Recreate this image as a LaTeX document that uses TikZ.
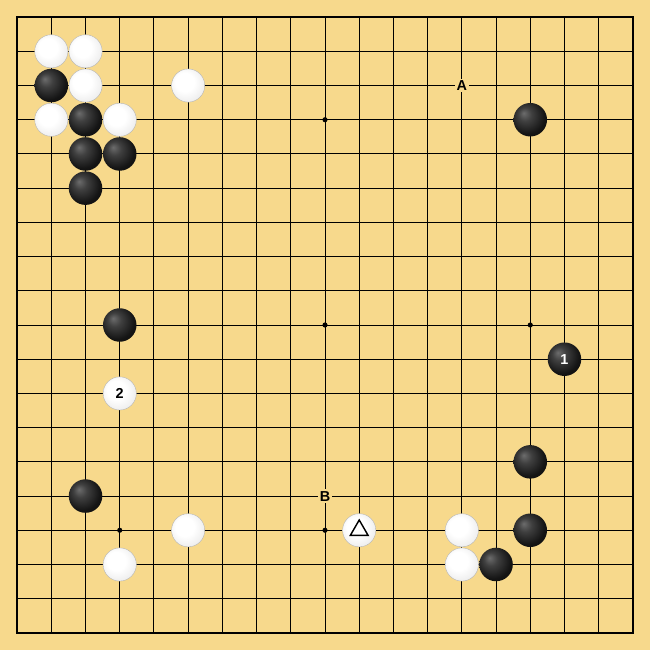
\documentclass[tikz,border=0pt]{standalone}
\usepackage{fontspec}
\setsansfont{Liberation Sans}
\usetikzlibrary{shapes.geometric}
\definecolor{board}{RGB}{247,217,140}
\pgfdeclareradialshading{whitestone}{\pgfpoint{-7bp}{7bp}}{color(0bp)=(white); color(14bp)=(white); color(30bp)=(gray!15); color(42bp)=(gray!40); color(50bp)=(gray!55)}
\pgfdeclareradialshading{blackstone}{\pgfpoint{-10bp}{10bp}}{color(0bp)=(gray!85!black); color(10bp)=(black!75); color(26bp)=(black!92); color(50bp)=(black)}

\begin{document}
\begin{tikzpicture}[x=1cm,y=1cm]
 \fill[board] (-0.5,0.5) rectangle (18.5,-18.5);
 \useasboundingbox (-0.5,0.5) rectangle (18.5,-18.5);
 \draw[line width=.8pt] (0,0) grid (18,-18);
 \draw[line width=1.6pt] (0,0) rectangle (18,-18);
 % hoshi
 \foreach \x in {3,9,15}
  \foreach \y in {3,9,15}
   \fill (\x,-\y) circle (.075);
 % letters
 \begin{scope}[every node/.style={fill=board,inner sep=1.5pt,font=\sffamily\bfseries\fontsize{12}{14}\selectfont}]
  \node (A) at (13,-2) {A};
  \node (B) at (9,-14) {B};
 \end{scope}
 % black stones
 \begin{scope}[every node/.style={circle,shading=blackstone,minimum size=.98cm,inner sep=0,text=white,font=\sffamily\bfseries\fontsize{12}{14}\selectfont}]
  \node (b1) at (1,-2) {};
  \node (b2) at (2,-3) {};
  \node (b3) at (2,-4) {};
  \node (b4) at (3,-4) {};
  \node (b5) at (2,-5) {};
  \node (b6) at (15,-3) {};
  \node (b7) at (3,-9) {};
  \node (m1) at (16,-10) {1};
  \node (b8) at (15,-13) {};
  \node (b9) at (2,-14) {};
  \node (b10) at (15,-15) {};
  \node (b11) at (14,-16) {};
 \end{scope}
 % white stones
 \begin{scope}[every node/.style={circle,shading=whitestone,draw=gray!60,line width=.3pt,minimum size=.97cm,inner sep=0,font=\sffamily\bfseries\fontsize{12}{14}\selectfont}]
  \node (w1) at (1,-1) {};
  \node (w2) at (2,-1) {};
  \node (w3) at (2,-2) {};
  \node (w4) at (5,-2) {};
  \node (w5) at (1,-3) {};
  \node (w6) at (3,-3) {};
  \node (m2) at (3,-11) {2};
  \node (w7) at (5,-15) {};
  \node (w8) at (10,-15) {};
  \node (w9) at (13,-15) {};
  \node (w10) at (3,-16) {};
  \node (w11) at (13,-16) {};
 \end{scope}
 \node[regular polygon,regular polygon sides=3,draw,line width=1.2pt,minimum size=.6cm,inner sep=0] (tri) at (w8) {};
\end{tikzpicture}
\end{document}
